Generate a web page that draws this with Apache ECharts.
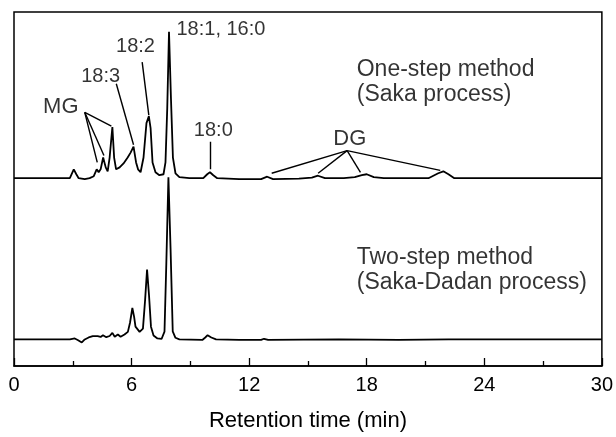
<!DOCTYPE html>
<html>
<head>
<meta charset="utf-8">
<script src="https://cdn.jsdelivr.net/npm/echarts@6/dist/echarts.min.js"></script>
<style>
html, body { margin: 0; padding: 0; background: #fff; }
#chart { width: 616px; height: 437px; }
</style>
</head>
<body>
<div id="chart"></div>
<script>
// Chromatogram traces (time in min, signal in arbitrary units)
const upperTime = [0, 2.34, 2.85, 2.95, 3.05, 3.18, 3.3, 3.61, 3.86, 4.07, 4.22, 4.32, 4.42, 4.55, 4.68, 4.78, 4.88, 5.02, 5.11, 5.21,
    5.39, 5.59, 5.8, 5.95, 6.1, 6.23, 6.33, 6.46, 6.61, 6.76, 6.88, 6.97, 7.07, 7.22, 7.42, 7.63, 7.73, 7.82, 7.91, 8.01,
    8.11, 8.24, 8.44, 8.95, 9.66, 9.86, 10.0, 10.17, 10.37, 11.49, 12.61, 12.92, 13.22, 14.54, 15.2, 15.51, 15.87, 16.83, 17.39, 17.75,
    18.0, 18.36, 18.87, 21.15, 21.65, 21.91, 22.17, 22.47, 24.71, 30];
const upperSignal = [191, 191, 191, 193, 200, 195, 191, 190, 191, 193, 200, 197, 200, 212, 202, 198, 212, 243, 212, 200,
    202, 206, 212, 217, 223, 207, 200, 197, 212, 247, 254, 242, 207, 197, 194, 195, 207, 262, 340, 272,
    212, 196, 192, 191, 191, 195, 197, 194, 191, 190, 190, 192.5, 190, 190.5, 191.5, 193.5, 191, 191, 192, 194,
    195, 192, 191, 191, 196, 198, 195, 191, 191, 191];

const lowerTime = [0, 2.85, 3.1, 3.25, 3.46, 3.61, 3.81, 4.02, 4.27, 4.42, 4.54, 4.71, 4.88, 5.02, 5.14, 5.3, 5.44, 5.64, 5.81, 5.92,
    6.04, 6.13, 6.2, 6.41, 6.58, 6.69, 6.79, 6.89, 6.99, 7.12, 7.32, 7.53, 7.68, 7.77, 7.88, 7.99, 8.1, 8.24, 8.44, 9.61,
    9.76, 9.88, 10.07, 10.31, 11.49, 12.61, 12.76, 12.97, 16.58, 19.63, 22.17, 30];
const lowerSignal = [27, 27, 28, 26.5, 24, 27, 29, 30.3, 30.3, 29.5, 31.3, 29.3, 30.5, 33.7, 29.7, 32, 29.7, 32, 34.7, 44,
    59, 50, 40, 34.7, 38, 67, 98, 72, 40, 31, 28, 27.5, 35, 102, 192, 119, 35.3, 28.7, 27, 26.5,
    29, 31.3, 29, 27, 26.5, 26.5, 27.7, 26.5, 27, 26.5, 27, 27];

// Axis
const xTicks = [0, 6, 12, 18, 24, 30];

// Peak labels and their leader lines
const peakNames = ["MG", "18:3", "18:2", "18:1, 16:0", "18:0", "DG"];
const peakLabelAt = [[2.39, 263], [4.42, 294], [6.2, 325], [8.29, 342], [10.17, 240], [17.14, 231]];
const peakLabelAlign = ["center", "center", "center", "left", "center", "center"];
const peakLabelSize = [22, 20, 20, 20, 20, 22];

const leaderLines = [
    [[3.61, 258], [4.25, 207]],
    [[3.61, 258], [4.59, 214]],
    [[3.61, 258], [4.97, 244]],
    [[5.22, 287], [6.1, 225]],
    [[6.54, 309], [6.88, 255]],
    [[10.0, 228], [10.0, 200]],
    [[17.0, 219], [13.15, 196]],
    [[17.0, 219], [15.52, 196]],
    [[17.0, 219], [17.68, 197]],
    [[17.0, 219], [21.75, 199]]
];

const methodNames = ["One-step method", "(Saka process)", "Two-step method", "(Saka-Dadan process)"];
const methodLabelAt = [[17.49, 301], [17.49, 276], [17.49, 110.5], [17.49, 85]];

const FONT = "Liberation Sans";

function zip(xs, ys)
{
    const out = [];
    for (let i = 0; i < xs.length; i++) out.push([xs[i], ys[i]]);
    return out;
}

function textPoint(name, at, align, size)
{
    return {
        "name": name,
        "value": at,
        "label": {
            "show": true,
            "formatter": name,
            "position": "inside",
            "align": align,
            "verticalAlign": "middle",
            "fontSize": size,
            "fontFamily": FONT,
            "color": "#000"
        }
    };
}

const peakTexts = peakNames.map((n, i) => textPoint(n, peakLabelAt[i], peakLabelAlign[i], peakLabelSize[i]));
const methodTexts = methodNames.map((n, i) => textPoint(n, methodLabelAt[i], "left", 23));

const chart = echarts.init(document.getElementById("chart"), null, { "renderer": "canvas" });

const option = {
    "animation": false,
    "backgroundColor": "#fff",
    "grid": {
        "left": 14,
        "right": 12,
        "top": 12,
        "bottom": 65,
        "show": true,
        "borderColor": "#000",
        "borderWidth": 1.5
    },
    "xAxis": {
        "type": "value",
        "min": 0,
        "max": 30,
        "interval": 6,
        "name": "Retention time (min)",
        "nameLocation": "middle",
        "nameGap": 44,
        "nameTextStyle": { "fontSize": 22, "fontFamily": FONT, "color": "#000" },
        "axisLine": { "lineStyle": { "color": "#000", "width": 1.5 } },
        "axisTick": { "inside": true, "length": 8, "lineStyle": { "color": "#000", "width": 1.3 } },
        "minorTick": { "show": true, "splitNumber": 2, "length": 5, "lineStyle": { "color": "#000", "width": 1.3 } },
        "splitLine": { "show": false },
        "axisLabel": {
            "margin": 9,
            "fontSize": 20,
            "fontFamily": FONT,
            "color": "#000",
            "formatter": v => (xTicks.indexOf(v) >= 0 ? String(v) : "")
        }
    },
    "yAxis": {
        "type": "value",
        "min": 0,
        "max": 360,
        "show": false,
        "splitLine": { "show": false }
    },
    "series": [
        {
            "name": "One-step",
            "type": "line",
            "data": zip(upperTime, upperSignal),
            "showSymbol": false,
            "lineStyle": { "color": "#000", "width": 1.8 },
            "z": 3
        },
        {
            "name": "Two-step",
            "type": "line",
            "data": zip(lowerTime, lowerSignal),
            "showSymbol": false,
            "lineStyle": { "color": "#000", "width": 1.8 },
            "z": 3
        },
        {
            "name": "Leaders",
            "type": "lines",
            "coordinateSystem": "cartesian2d",
            "data": leaderLines.map(c => ({ "coords": c })),
            "symbol": ["none", "none"],
            "lineStyle": { "color": "#000", "width": 1.4, "opacity": 1 },
            "silent": true
        },
        {
            "name": "Peak labels",
            "type": "scatter",
            "symbolSize": 0,
            "data": peakTexts,
            "silent": true
        },
        {
            "name": "Method labels",
            "type": "scatter",
            "symbolSize": 0,
            "data": methodTexts,
            "silent": true
        }
    ]
};

chart.setOption(option);
</script>
</body>
</html>
